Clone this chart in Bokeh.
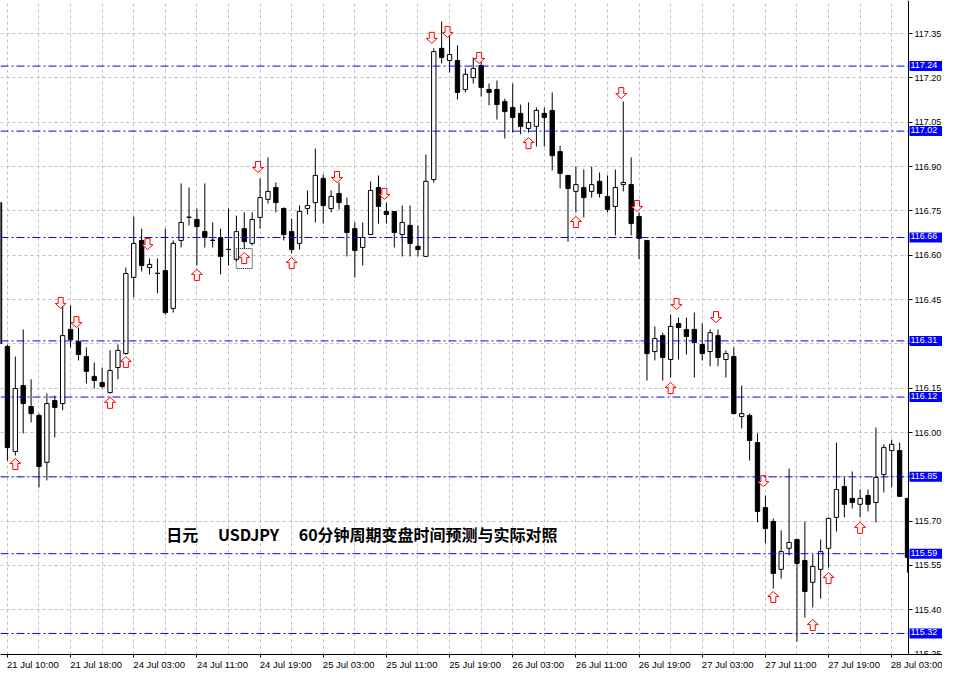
from bokeh.plotting import figure
from bokeh.models import (Range1d, FixedTicker, Label, ColumnDataSource,
                          PrintfTickFormatter, LinearAxis)
from bokeh.embed import file_html
from bokeh.resources import INLINE

# ---------------- data ----------------
first_bar = -1
opens = [116.778, 116.291, 115.936, 116.159, 116.088, 116.058, 115.899, 116.108, 116.098, 116.349,
         116.308, 116.257, 116.190, 116.169, 116.135, 116.220, 116.267, 116.525, 116.650, 116.558,
         116.538, 116.548, 116.420, 116.650, 116.728, 116.721, 116.680, 116.650, 116.660, 116.619,
         116.586, 116.690, 116.640, 116.728, 116.789, 116.829, 116.758, 116.680, 116.640, 116.758,
         116.778, 116.860, 116.758, 116.809, 116.768, 116.690, 116.626, 116.670, 116.829, 116.748,
         116.748, 116.670, 116.701, 116.630, 116.596, 116.856, 117.300, 117.259, 117.259, 117.161,
         117.201, 117.242, 117.161, 117.161, 117.120, 117.100, 117.080, 117.029, 117.036, 117.080,
         117.090, 116.951, 116.870, 116.816, 116.829, 116.816, 116.850, 116.799, 116.765, 116.839,
         116.839, 116.731, 116.650, 116.274, 116.328, 116.247, 116.369, 116.349, 116.349, 116.298,
         116.274, 116.328, 116.247, 116.257, 116.054, 116.058, 115.966, 115.746, 115.699, 115.537,
         115.608, 115.638, 115.567, 115.493, 115.537, 115.608, 115.713, 115.817, 115.777, 115.757,
         115.787, 115.763, 115.858, 115.939, 115.939, 115.777]
highs = [116.785, 116.298, 116.257, 116.349, 116.180, 116.064, 116.132, 116.125, 116.430, 116.430,
         116.355, 116.288, 116.237, 116.220, 116.278, 116.298, 116.558, 116.731, 116.690, 116.589,
         116.589, 116.690, 116.650, 116.843, 116.829, 116.758, 116.843, 116.711, 116.690, 116.758,
         116.734, 116.745, 116.745, 116.860, 116.931, 116.846, 116.762, 116.724, 116.768, 116.819,
         116.961, 116.873, 116.819, 116.846, 116.795, 116.711, 116.711, 116.850, 116.870, 116.778,
         116.748, 116.768, 116.768, 116.701, 116.941, 117.300, 117.391, 117.350, 117.310, 117.232,
         117.269, 117.259, 117.181, 117.191, 117.130, 117.181, 117.110, 117.117, 117.100, 117.100,
         117.151, 116.971, 116.870, 116.900, 116.890, 116.900, 116.880, 116.870, 116.890, 117.120,
         116.931, 116.745, 116.650, 116.359, 116.338, 116.399, 116.389, 116.389, 116.406, 116.369,
         116.349, 116.349, 116.278, 116.288, 116.159, 116.064, 115.997, 115.787, 115.709, 115.669,
         115.878, 115.638, 115.699, 115.587, 115.638, 115.713, 115.966, 115.848, 115.868, 115.807,
         115.807, 116.017, 115.960, 115.976, 115.966, 115.777]
lows = [116.295, 115.905, 115.922, 115.997, 116.034, 115.814, 115.838, 115.983, 116.075, 116.288,
        116.244, 116.166, 116.149, 116.149, 116.132, 116.180, 116.264, 116.457, 116.545, 116.535,
        116.471, 116.399, 116.406, 116.626, 116.701, 116.565, 116.626, 116.626, 116.535, 116.565,
        116.579, 116.623, 116.633, 116.690, 116.775, 116.745, 116.650, 116.606, 116.619, 116.738,
        116.711, 116.707, 116.745, 116.755, 116.596, 116.525, 116.565, 116.670, 116.707, 116.707,
        116.626, 116.596, 116.596, 116.596, 116.596, 116.846, 117.249, 117.218, 117.127, 117.151,
        117.181, 117.137, 117.107, 117.059, 116.995, 117.015, 117.009, 117.015, 116.968, 116.968,
        116.887, 116.826, 116.646, 116.745, 116.728, 116.795, 116.795, 116.745, 116.667, 116.816,
        116.667, 116.586, 116.176, 116.244, 116.176, 116.186, 116.247, 116.264, 116.186, 116.244,
        116.224, 116.224, 116.186, 116.061, 116.014, 115.905, 115.696, 115.625, 115.472, 115.506,
        115.584, 115.293, 115.374, 115.408, 115.438, 115.543, 115.665, 115.713, 115.743, 115.713,
        115.733, 115.696, 115.797, 115.814, 115.784, 115.526]
closes = [116.301, 115.949, 116.149, 116.098, 116.064, 115.885, 116.098, 116.085, 116.328, 116.315,
          116.264, 116.207, 116.176, 116.156, 116.210, 116.278, 116.538, 116.640, 116.565, 116.569,
          116.539, 116.406, 116.640, 116.711, 116.729, 116.697, 116.660, 116.651, 116.596, 116.620,
          116.680, 116.646, 116.721, 116.795, 116.816, 116.778, 116.670, 116.619, 116.748, 116.768,
          116.870, 116.768, 116.799, 116.778, 116.677, 116.616, 116.660, 116.819, 116.765, 116.738,
          116.677, 116.711, 116.640, 116.619, 116.850, 117.289, 117.269, 117.279, 117.151, 117.212,
          117.232, 117.168, 117.151, 117.110, 117.086, 117.066, 117.036, 117.049, 117.090, 117.066,
          116.937, 116.877, 116.826, 116.839, 116.795, 116.839, 116.809, 116.755, 116.829, 116.846,
          116.707, 116.657, 116.267, 116.318, 116.254, 116.359, 116.355, 116.325, 116.305, 116.267,
          116.338, 116.254, 116.267, 116.064, 116.064, 115.973, 115.733, 115.675, 115.523, 115.597,
          115.628, 115.557, 115.462, 115.547, 115.597, 115.709, 115.807, 115.757, 115.763, 115.777,
          115.757, 115.848, 115.949, 115.960, 115.784, 115.577]
bar_index = list(range(first_bar, first_bar + len(opens)))

date_labels = ["21 Jul 10:00", "21 Jul 18:00", "24 Jul 03:00", "24 Jul 11:00", "24 Jul 19:00",
               "25 Jul 03:00", "25 Jul 11:00", "25 Jul 19:00", "26 Jul 03:00", "26 Jul 11:00",
               "26 Jul 19:00", "27 Jul 03:00", "27 Jul 11:00", "27 Jul 19:00", "28 Jul 03:00"]
bars_per_label = 8
bars_per_grid = 4

price_ticks = [115.25, 115.40, 115.55, 115.70, 115.85, 116.00, 116.15, 116.30,
               116.45, 116.60, 116.75, 116.90, 117.05, 117.20, 117.35]
levels = [117.24, 117.02, 116.66, 116.31, 116.12, 115.85, 115.59, 115.32]

up_idx = [1, 13, 15, 24, 30, 36, 66, 72, 84, 97, 102, 104, 108]
up_tip = [115.912, 116.119, 116.257, 116.552, 116.609, 116.592, 116.998, 116.731,
          116.169, 115.462, 115.367, 115.526, 115.696]
down_idx = [7, 9, 18, 32, 42, 48, 54, 56, 60, 78, 80, 85, 90, 96]
down_tip = [116.420, 116.355, 116.619, 116.880, 116.846, 116.789, 117.317, 117.337,
            117.249, 117.130, 116.748, 116.416, 116.372, 115.817]
selected_up_bar = 30

title_text = "日元　 USDJPY　 60分钟周期变盘时间预测与实际对照"
title_price = 115.655

# ---------------- layout ----------------
W, H = 942, 673
BOTTOM = 19
CHART_W = 908                     # width of the candle area; the price scale sits to its right
FH = H - BOTTOM
X0, AXIS_X = -0.875, 114.125      # visible bars; the price scale stands at AXIS_X
dxp = (AXIS_X - X0) / CHART_W
X1 = X0 + W * dxp
Y1 = 117.462
PX_PER_PRICE = 295.5              # vertical scale of the terminal window
Y0 = Y1 - FH / PX_PER_PRICE
dyp = (Y1 - Y0) / FH
LABEL_HALF_PX = 25.5              # half width of a date label: labels start at their tick

p = figure(width=W, height=H, x_range=Range1d(X0, X1), y_range=Range1d(Y0, Y1),
           y_axis_location="right", toolbar_location=None, output_backend="svg",
           min_border_left=0, min_border_top=0, min_border_right=0, min_border_bottom=BOTTOM)
p.outline_line_color = None
p.background_fill_color = "white"
p.border_fill_color = "white"

# grids
p.xgrid.ticker = FixedTicker(ticks=list(range(0, bar_index[-1] + 1, bars_per_grid)))
p.ygrid.ticker = FixedTicker(ticks=price_ticks)
for g in (p.xgrid, p.ygrid):
    g.grid_line_color = "#C0C0C0"
    g.grid_line_dash = "3 3"
    g.grid_line_width = 1

# axes
label_pos = [i * bars_per_label for i in range(len(date_labels))]
xa = p.xaxis[0]
xa.ticker = FixedTicker(ticks=label_pos)
xa.major_label_overrides = {pos: "" for pos in label_pos}
xa.major_label_text_font_size = "1px"
xa.major_label_standoff = 0
ya = p.yaxis[0]
ya.fixed_location = AXIS_X
ya.ticker = FixedTicker(ticks=price_ticks)
ya.formatter = PrintfTickFormatter(format="%.2f")
# price labels hidden under a level box are left blank, as in the terminal
ya.major_label_overrides = {t: "" for t in price_ticks
                            if any(abs(t - lv) < 0.02 for lv in levels)}
for ax in (xa, ya):
    ax.axis_line_color = "black"
    ax.axis_line_width = 1
    ax.major_tick_line_color = "black"
    ax.major_tick_in = 0
    ax.minor_tick_line_color = None
xa.major_tick_out = 3
ya.major_tick_out = 4
ya.major_label_text_font = "Liberation Sans"
ya.major_label_text_font_size = "9px"
ya.major_label_text_color = "black"
ya.major_label_standoff = 2

# date-label axis: each label starts at its tick, as in the terminal
text_pos = [pos + LABEL_HALF_PX * dxp for pos in label_pos]
date_axis = LinearAxis(ticker=FixedTicker(ticks=text_pos),
                       major_label_overrides={tp: lab for tp, lab in zip(text_pos, date_labels)},
                       axis_line_color=None, major_tick_line_color=None,
                       minor_tick_line_color=None, major_tick_out=0, major_tick_in=0,
                       major_label_standoff=1, major_label_text_font="Liberation Sans",
                       major_label_text_font_size="9.5px", major_label_text_color="black")
p.add_layout(date_axis, "below")

# candles
bull = [c >= o for o, c in zip(opens, closes)]
src = ColumnDataSource(dict(
    x=bar_index, high=highs, low=lows,
    top=[max(o, c) for o, c in zip(opens, closes)],
    bottom=[min(o, c) for o, c in zip(opens, closes)],
    fill=["white" if b else "black" for b in bull],
))
p.segment(x0="x", y0="low", x1="x", y1="high", source=src, line_color="black", line_width=1)
p.vbar(x="x", width=0.55, top="top", bottom="bottom", source=src,
       fill_color="fill", line_color="black", line_width=1)

# arrows
UP_SHAPE = [(0, 0), (5.5, 5), (2.5, 5), (2.5, 11), (-2.5, 11), (-2.5, 5), (-5.5, 5)]
up_xs = [[k + dx * dxp for dx, dy in UP_SHAPE] for k in up_idx]
up_ys = [[t - dy * dyp for dx, dy in UP_SHAPE] for t in up_tip]
dn_xs = [[k + (dx - 2) * dxp for dx, dy in UP_SHAPE] for k in down_idx]
dn_ys = [[t + dy * dyp for dx, dy in UP_SHAPE] for t in down_tip]
p.patches(up_xs + dn_xs, up_ys + dn_ys, fill_color="white", line_color="#FF0000", line_width=1)

# selection box around one arrow
sel_tip = up_tip[up_idx.index(selected_up_bar)]
p.quad(left=[selected_up_bar - 8 * dxp], right=[selected_up_bar + 8 * dxp],
       top=[sel_tip + 4 * dyp], bottom=[sel_tip - 16 * dyp],
       fill_color=None, line_color="black", line_dash="1 1", line_width=1)

# blank price-scale strip to the right of the chart area
p.quad(left=[AXIS_X], right=[X1], top=[Y1], bottom=[Y0],
       fill_color="white", line_color=None)

# level lines (stop at the price scale)
p.segment(x0=[X0] * len(levels), x1=[AXIS_X] * len(levels), y0=levels, y1=levels,
          line_color="#0000FF", line_dash="8 3 2 3", line_width=1)

# level price boxes on the price scale
for lv in levels:
    p.add_layout(Label(x=AXIS_X, y=lv, x_offset=1, text=f"{lv:.2f}",
                       text_font="Liberation Sans", text_font_size="9px", text_color="white",
                       text_align="left", text_baseline="middle",
                       background_fill_color="#0000FF", background_fill_alpha=1.0,
                       padding=(1, 7, 1, 3)))

# title text
p.add_layout(Label(x=168 * CHART_W / 920, x_units="screen", y=title_price, y_units="data",
                   text=title_text, text_font="Noto Sans CJK SC", text_font_style="bold",
                   text_font_size="16px", text_color="black", text_baseline="middle"))

open("out.html", "w").write(file_html(p, INLINE))
